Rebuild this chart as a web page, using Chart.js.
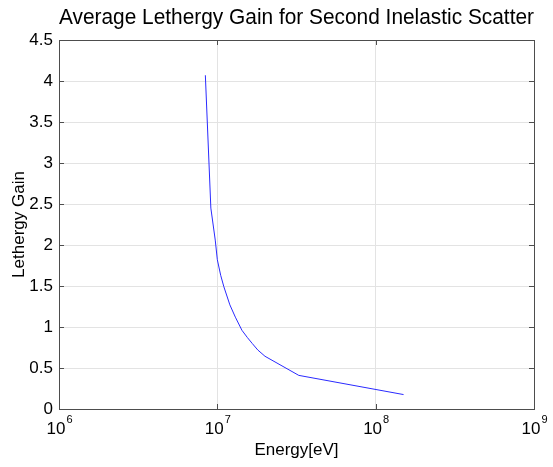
<!DOCTYPE html>
<html>
<head>
<meta charset="utf-8">
<script src="https://cdn.jsdelivr.net/npm/chart.js@4/dist/chart.umd.min.js"></script>
<style>
  html, body { margin: 0; padding: 0; background: #fff; }
  #wrap { width: 553px; height: 467px; }
</style>
</head>
<body>
<div id="wrap"><canvas id="chart" width="553" height="467"></canvas></div>
<script>
// energies in eV
const energy = [8.4e6, 9.1e6, 9.7e6, 1.0e7, 1.05e7, 1.1e7, 1.2e7, 1.3e7, 1.43e7, 1.55e7, 1.66e7, 1.8e7, 2.0e7, 3.27e7, 1.5e8];
const gain   = [4.07, 2.45, 2.06, 1.82, 1.63, 1.49, 1.27, 1.12, 0.96, 0.87, 0.80, 0.72, 0.643, 0.41, 0.176];
const xTicks = [1e6, 1e7, 1e8, 1e9];
const yTicks = [0, 0.5, 1, 1.5, 2, 2.5, 3, 3.5, 4, 4.5];

const FONT = 'Liberation Sans, Arial, Helvetica, sans-serif';

// box around the axes, inward tick marks and 10^n labels (matlab style)
const matlabAxes = {
    id: 'matlabAxes',
    afterDraw(chart) {
        const ctx = chart.ctx;
        const a = chart.chartArea;
        const xs = chart.scales.x, ys = chart.scales.y;
        ctx.save();
        ctx.strokeStyle = '#4d4d4d';
        ctx.lineWidth = 1;
        ctx.strokeRect(Math.round(a.left) + 0.5, Math.round(a.top) + 0.5,
            Math.round(a.right - a.left), Math.round(a.bottom - a.top));
        ctx.beginPath();
        for (const v of xTicks) {
            const px = Math.round(xs.getPixelForValue(v)) + 0.5;
            ctx.moveTo(px, a.bottom); ctx.lineTo(px, a.bottom - 5);
            ctx.moveTo(px, a.top); ctx.lineTo(px, a.top + 5);
        }
        for (const v of yTicks) {
            const py = Math.round(ys.getPixelForValue(v)) + 0.5;
            ctx.moveTo(a.left, py); ctx.lineTo(a.left + 5, py);
            ctx.moveTo(a.right, py); ctx.lineTo(a.right - 5, py);
        }
        ctx.stroke();

        ctx.fillStyle = '#000';
        ctx.textBaseline = 'alphabetic';
        for (const v of xTicks) {
            const px = xs.getPixelForValue(v);
            const exp = String(Math.round(Math.log10(v)));
            ctx.font = '17px ' + FONT;
            const w = ctx.measureText('10').width;
            ctx.font = '11px ' + FONT;
            const we = ctx.measureText(exp).width;
            const x0 = px - (w + we) / 2;
            ctx.font = '17px ' + FONT;
            ctx.textAlign = 'left';
            ctx.fillText('10', x0, a.bottom + 25);
            ctx.font = '11px ' + FONT;
            ctx.fillText(exp, x0 + w + 1, a.bottom + 14);
        }
        ctx.restore();
    }
};

new Chart(document.getElementById('chart'), {
    type: 'line',
    data: {
        datasets: [{
            data: energy.map((e, i) => ({ x: e, y: gain[i] })),
            borderColor: '#2a2aff',
            borderWidth: 1,
            pointRadius: 0,
            tension: 0,
            fill: false
        }]
    },
    options: {
        responsive: false,
        animation: false,
        layout: { padding: { top: 0, right: 19, bottom: 0, left: 0 } },
        plugins: {
            legend: { display: false },
            tooltip: { enabled: false },
            title: {
                display: true,
                fullSize: false,
                text: 'Average Lethergy Gain for Second Inelastic Scatter',
                color: '#000',
                font: { family: FONT, size: 22, weight: 'normal', lineHeight: 1.2 },
                padding: { top: 5, bottom: 8.6 }
            }
        },
        scales: {
            x: {
                type: 'logarithmic',
                min: 1e6,
                max: 1e9,
                afterBuildTicks: s => { s.ticks = xTicks.map(v => ({ value: v })); },
                afterFit: s => { s.height = 58; },
                ticks: { display: false },
                grid: { color: '#e3e3e3', drawTicks: false },
                border: { display: false },
                title: {
                    display: true,
                    text: 'Energy[eV]',
                    color: '#000',
                    font: { family: FONT, size: 17 },
                    padding: { top: 0, bottom: 6 }
                }
            },
            y: {
                min: 0,
                max: 4.5,
                afterBuildTicks: s => { s.ticks = yTicks.map(v => ({ value: v })); },
                afterFit: s => { s.width = 59; },
                ticks: {
                    color: '#000',
                    padding: 6,
                    font: { family: FONT, size: 17 },
                    callback: v => String(v)
                },
                grid: { color: '#e3e3e3', drawTicks: false },
                border: { display: false },
                title: {
                    display: true,
                    text: 'Lethergy Gain',
                    color: '#000',
                    font: { family: FONT, size: 17 },
                    padding: { top: 9, bottom: 0 }
                }
            }
        }
    },
    plugins: [matlabAxes]
});
</script>
</body>
</html>
